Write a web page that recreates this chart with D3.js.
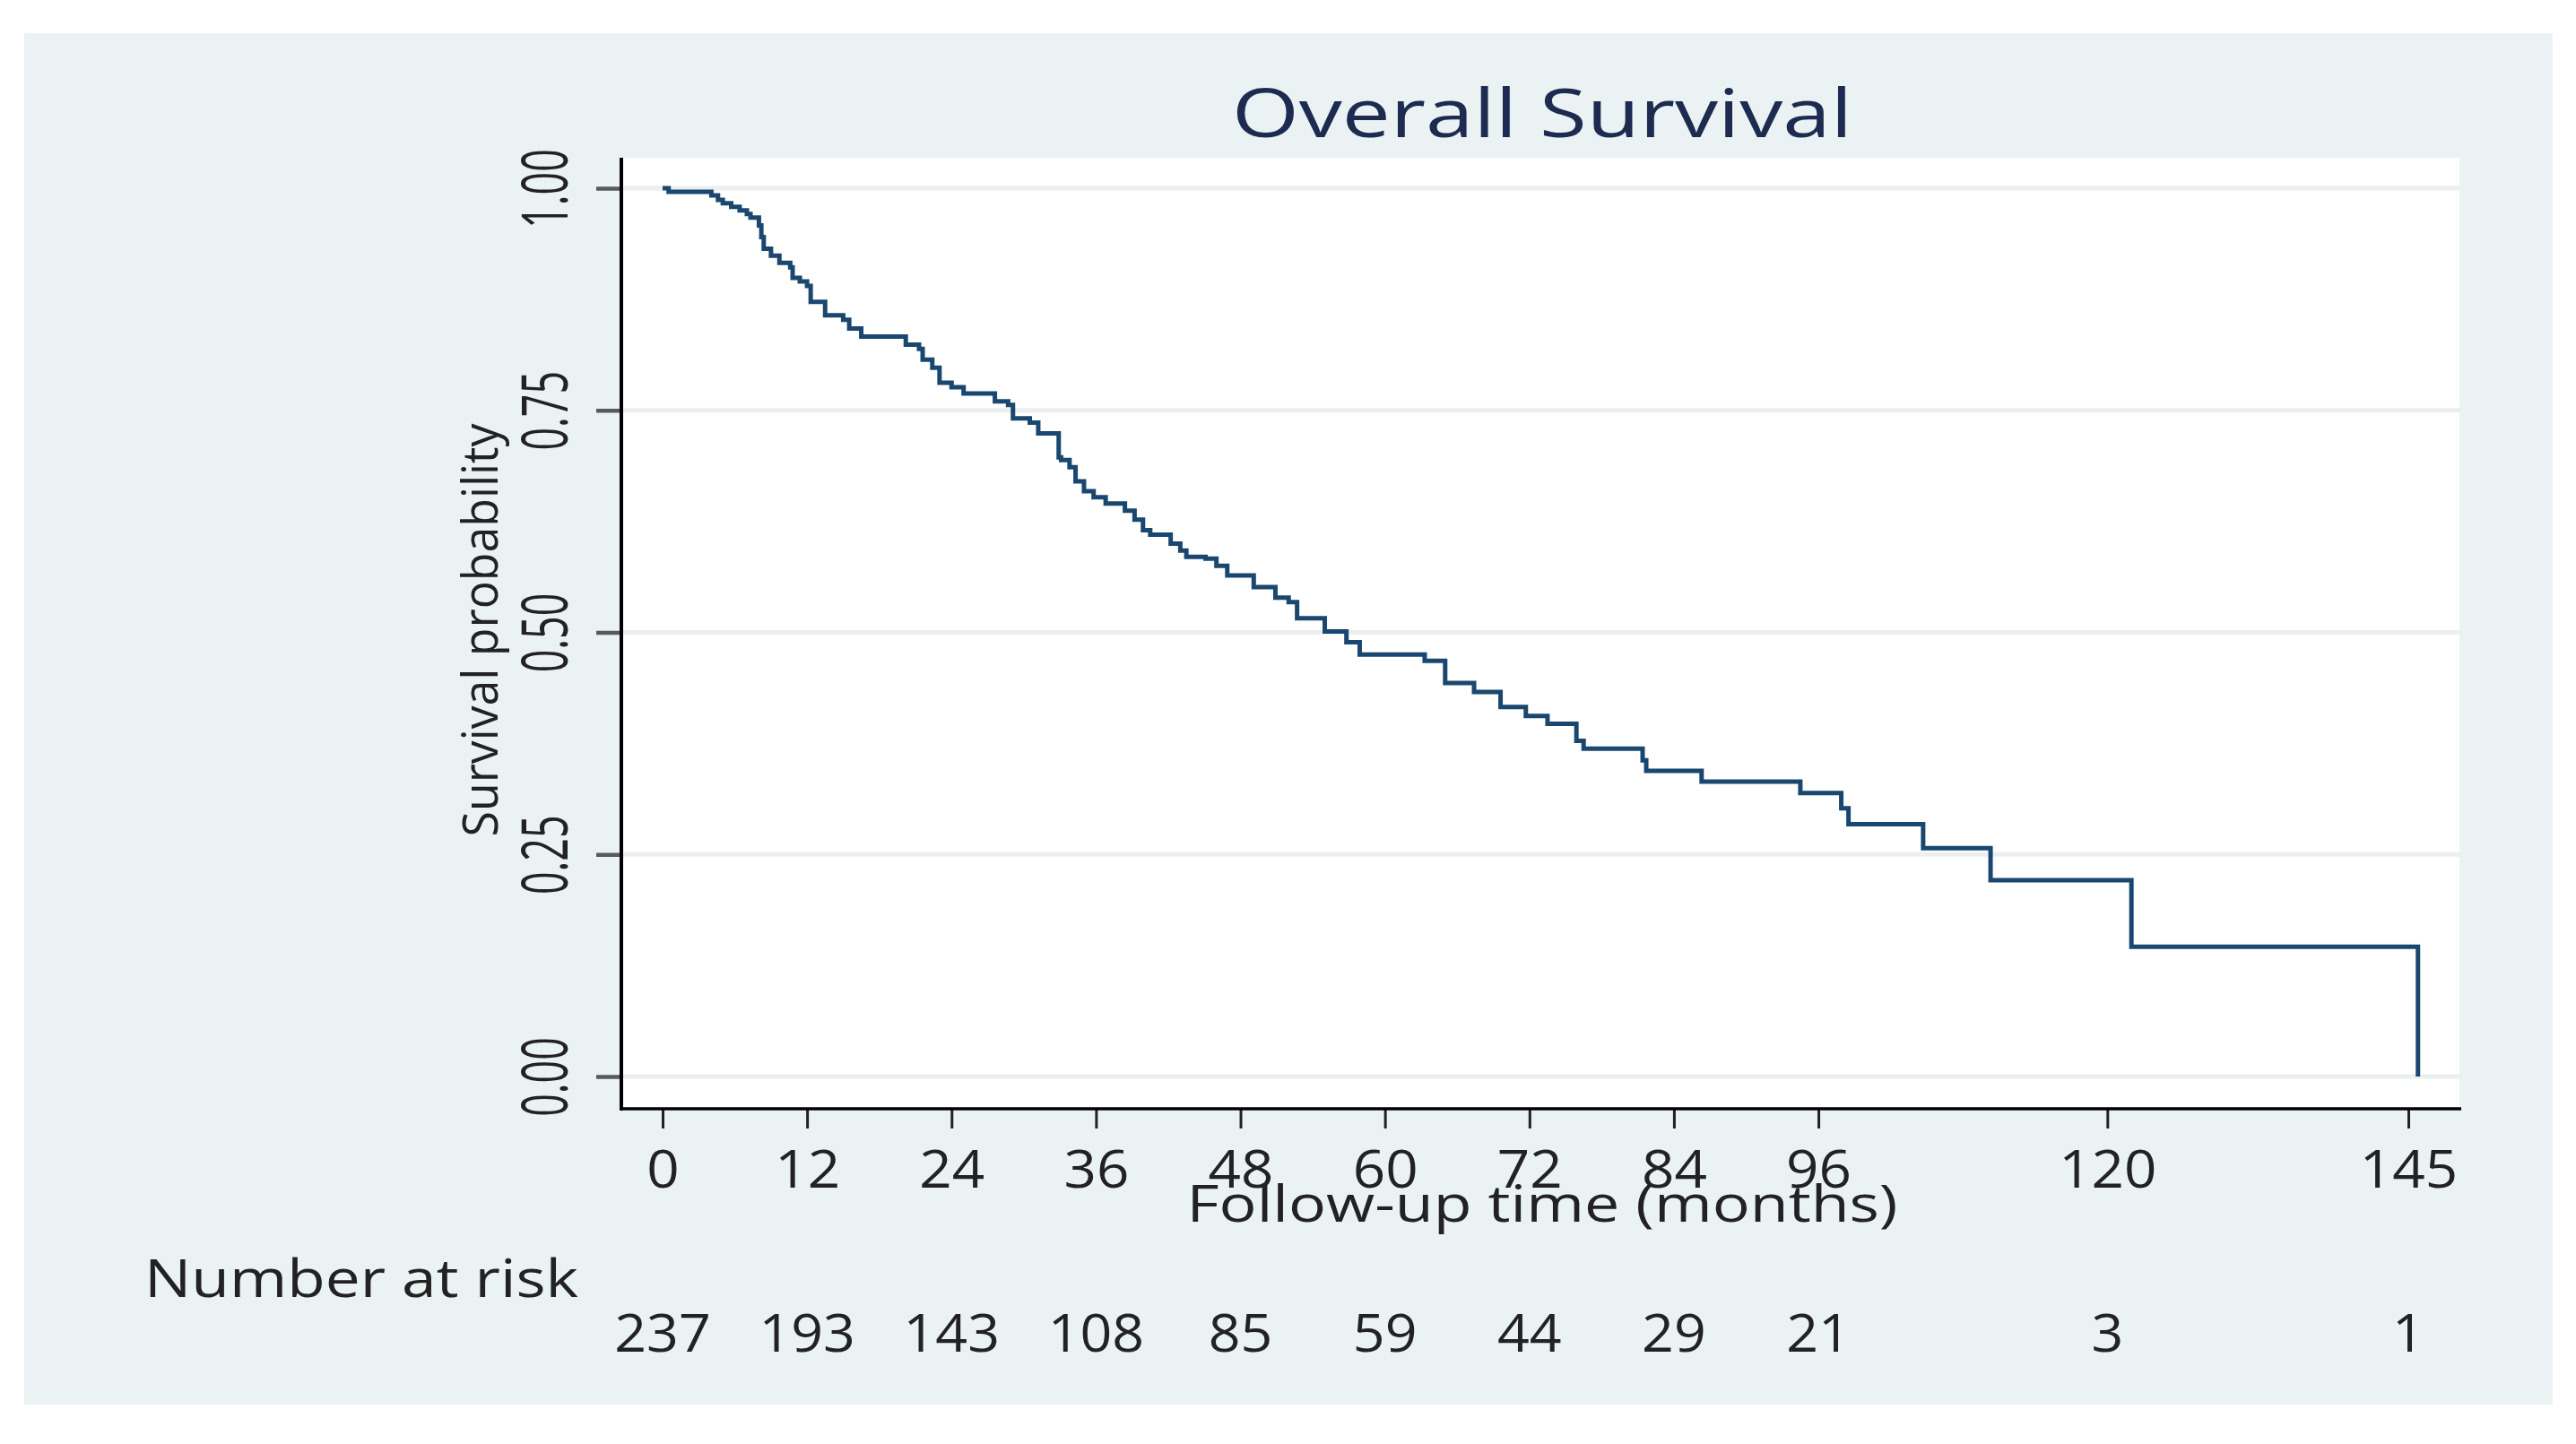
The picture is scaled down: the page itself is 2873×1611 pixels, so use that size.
<!DOCTYPE html>
<html>
<head>
<meta charset="utf-8">
<script src="https://cdn.jsdelivr.net/npm/d3@7"></script>
<style>
  body { margin: 0; background: #ffffff; }
  text { font-family: "Open Sans", "Noto Sans", sans-serif; }
</style>
</head>
<body>
<div id="chart"></div>
<script>
// Kaplan-Meier steps: time (months) and survival after the drop
const timeMonths = [0, 0.5, 4.05, 4.6, 5.0, 5.7, 6.4, 7.0, 7.3, 8.0, 8.2, 8.4, 9.0, 9.7, 10.6, 10.8,
  11.4, 12.0, 12.3, 13.5, 15.0, 15.5, 16.5, 20.2, 21.3, 21.6, 22.4, 23.0, 24.0, 25.0, 27.6, 28.7,
  29.1, 30.5, 31.2, 32.9, 33.1, 33.8, 34.3, 35.0, 35.8, 36.8, 38.4, 39.2, 39.9, 40.5, 42.2, 43.0,
  43.5, 45.1, 46.0, 46.9, 49.1, 50.9, 52.0, 52.7, 55.0, 56.8, 57.9, 63.3, 65.0, 67.4, 69.6, 71.7,
  73.5, 75.9, 76.5, 81.4, 81.7, 86.3, 94.5, 97.9, 98.5, 104.7, 110.3, 122.0, 145.8];
const survival = [1.0, 0.996, 0.992, 0.987, 0.983, 0.979, 0.975, 0.971, 0.967, 0.958, 0.945, 0.932,
  0.924, 0.916, 0.911, 0.899, 0.895, 0.890, 0.872, 0.857, 0.852, 0.842, 0.833, 0.824, 0.819, 0.807,
  0.798, 0.781, 0.776, 0.769, 0.760, 0.756, 0.741, 0.736, 0.724, 0.697, 0.694, 0.686, 0.670, 0.659,
  0.652, 0.645, 0.637, 0.627, 0.615, 0.610, 0.600, 0.592, 0.585, 0.583, 0.575, 0.564, 0.551, 0.539,
  0.534, 0.516, 0.501, 0.489, 0.475, 0.468, 0.443, 0.433, 0.416, 0.406, 0.397, 0.378, 0.369, 0.356,
  0.344, 0.332, 0.319, 0.302, 0.284, 0.257, 0.221, 0.146, 0.0];
const xTicks = [0, 12, 24, 36, 48, 60, 72, 84, 96, 120, 145];
const atRisk = [237, 193, 143, 108, 85, 59, 44, 29, 21, 3, 1];
const yTicks = [0, 0.25, 0.5, 0.75, 1];

const w = 2873;
const h = 1611;
const plotLeft = 693, plotRight = 2743, plotTop = 176, plotBottom = 1237;

const svg = d3.select("#chart").append("svg").attr("width", w).attr("height", h);

function stretch(sel, k) {
  sel.each(function () {
    const len = this.getComputedTextLength();
    d3.select(this).attr("textLength", len * k).attr("lengthAdjust", "spacingAndGlyphs");
  });
}

// graph region
svg.append("rect").attr("x", 27).attr("y", 37).attr("width", 2820).attr("height", 1530)
  .attr("fill", "#eaf2f3");
// plot region
svg.append("rect").attr("x", plotLeft).attr("y", plotTop)
  .attr("width", plotRight - plotLeft).attr("height", plotBottom - plotTop)
  .attr("fill", "#ffffff");

const x = d3.scaleLinear().domain([0, 145]).range([739, 2686]);
const y = d3.scaleLinear().domain([0, 1]).range([1201, 210]);

// grid
svg.append("g").selectAll("line").data(yTicks).enter().append("line")
  .attr("x1", plotLeft).attr("x2", plotRight)
  .attr("y1", (d) => y(d)).attr("y2", (d) => y(d))
  .attr("stroke", "#ebeff0").attr("stroke-width", 5);

// survival curve
const line = d3.line().x((d) => x(d[0])).y((d) => y(d[1])).curve(d3.curveStepAfter);
svg.append("path")
  .datum(timeMonths.map((t, i) => [t, survival[i]]))
  .attr("d", line)
  .attr("fill", "none")
  .attr("stroke", "#1a476f")
  .attr("stroke-width", 5);

// y axis
const yAxis = d3.axisLeft(y).tickValues(yTicks).tickFormat(d3.format(".2f")).tickSize(28);
const gy = svg.append("g").attr("transform", "translate(" + plotLeft + ",0)").call(yAxis);
gy.select(".domain").remove();
gy.selectAll(".tick line").attr("stroke", "#5a5a5a").attr("stroke-width", 4.5);
gy.selectAll(".tick text")
  .attr("x", 0).attr("dy", 0)
  .attr("text-anchor", "middle")
  .attr("transform", "translate(-60,0) rotate(-90)")
  .attr("font-size", 71)
  .attr("fill", "#222");
stretch(gy.selectAll(".tick text"), 0.63);
svg.append("line").attr("x1", plotLeft).attr("x2", plotLeft)
  .attr("y1", plotTop).attr("y2", plotBottom + 2)
  .attr("stroke", "#000").attr("stroke-width", 4);

// x axis
const xAxis = d3.axisBottom(x).tickValues(xTicks).tickSize(22);
const gx = svg.append("g").attr("transform", "translate(0," + plotBottom + ")").call(xAxis);
gx.select(".domain").remove();
gx.selectAll(".tick line").attr("stroke", "#222").attr("stroke-width", 3);
gx.selectAll(".tick text")
  .attr("y", 88).attr("dy", 0)
  .attr("font-size", 59)
  .attr("fill", "#222");
stretch(gx.selectAll(".tick text"), 1.08);
svg.append("line").attr("x1", plotLeft - 2).attr("x2", plotRight + 2)
  .attr("y1", plotBottom).attr("y2", plotBottom)
  .attr("stroke", "#000").attr("stroke-width", 3.5);

// titles
svg.append("text").attr("x", 1720).attr("y", 153).attr("text-anchor", "middle")
  .attr("font-size", 75).attr("fill", "#1e2b50")
  .attr("textLength", 692).attr("lengthAdjust", "spacingAndGlyphs")
  .text("Overall Survival");

svg.append("text").attr("transform", "translate(555,703) rotate(-90)")
  .attr("text-anchor", "middle").attr("font-size", 54).attr("fill", "#222")
  .attr("textLength", 461).attr("lengthAdjust", "spacingAndGlyphs")
  .text("Survival probability");

// sits on top of the tick labels, as in the reference
svg.append("text").attr("x", 1720).attr("y", 1363).attr("text-anchor", "middle")
  .attr("font-size", 57).attr("fill", "#222")
  .attr("textLength", 793).attr("lengthAdjust", "spacingAndGlyphs")
  .text("Follow-up time (months)");

// number at risk table
svg.append("text").attr("x", 161).attr("y", 1447)
  .attr("font-size", 58).attr("fill", "#222")
  .attr("textLength", 484).attr("lengthAdjust", "spacingAndGlyphs")
  .text("Number at risk");

const risk = svg.append("g").selectAll("text").data(atRisk).enter().append("text")
  .attr("x", (d, i) => x(xTicks[i]))
  .attr("y", 1508)
  .attr("text-anchor", "middle")
  .attr("font-size", 58)
  .attr("fill", "#222")
  .text((d) => d);
stretch(risk, 1.08);
</script>
</body>
</html>
